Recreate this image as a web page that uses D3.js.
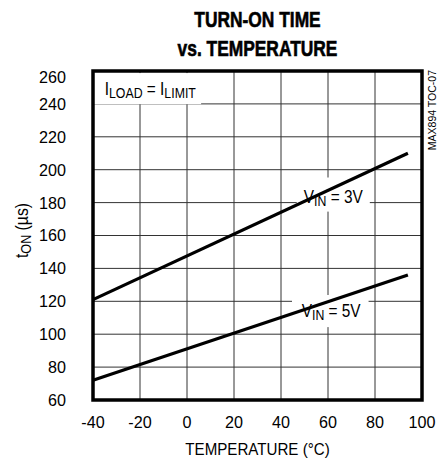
<!DOCTYPE html>
<html>
<head>
<meta charset="utf-8">
<script src="https://cdn.jsdelivr.net/npm/d3@7"></script>
<style>
  html, body { margin: 0; padding: 0; background: #fff; }
  svg { display: block; }
  text { font-family: "Liberation Sans", Arial, sans-serif; fill: #000; }
</style>
</head>
<body>
<svg id="chart" width="438" height="458"></svg>
<script>
// ---- data ----
const xTicks = [-40, -20, 0, 20, 40, 60, 80, 100];
const yTicks = [60, 80, 100, 120, 140, 160, 180, 200, 220, 240, 260];
const temp = [-40, 94];
const vin3V = [121, 210];
const vin5V = [72, 136];
const titleLines = ["TURN-ON TIME", "vs. TEMPERATURE"];
const xLabel = "TEMPERATURE (°C)";

// ---- layout ----
const svg = d3.select("#chart");
const L = 93, R = 422, T = 71, B = 400;
const x = d3.scaleLinear().domain([-40, 100]).range([L, R]);
const y = d3.scaleLinear().domain([60, 260]).range([B, T]);

// condensed text helper: group translated & horizontally squeezed
function ctext(parent, px, py, k, rot) {
  const g = parent.append("g")
    .attr("transform", `translate(${px},${py})${rot ? ` rotate(${rot})` : ""} scale(${k},1)`);
  return g;
}

// title
titleLines.forEach((s, i) => {
  ctext(svg, (L + R) / 2, 27 + i * 29, 0.79).append("text")
    .attr("text-anchor", "middle")
    .style("font-weight", "bold").style("font-size", "22px")
    .attr("stroke", "#000").attr("stroke-width", 0.6)
    .text(s);
});

// grid
const grid = svg.append("g").attr("stroke", "#333").attr("stroke-width", 1);
grid.selectAll(".gx").data(xTicks.slice(1, -1)).join("line")
  .attr("x1", d => x(d)).attr("x2", d => x(d)).attr("y1", T).attr("y2", B);
grid.selectAll(".gy").data(yTicks.slice(1, -1)).join("line")
  .attr("x1", L).attr("x2", R).attr("y1", d => y(d)).attr("y2", d => y(d));

// boxed labels with subscripts
const labels = svg.append("g");
function boxed(px, py, parts, pad) {
  const g = ctext(labels, px, py, 0.88);
  const rect = g.append("rect").attr("fill", "#fff");
  const fs = 17.5;
  const t = g.append("text").style("font-size", fs + "px");
  parts.forEach(p => {
    const s = t.append("tspan").text(p.t);
    if (p.sub) s.style("font-size", (fs * 0.8) + "px").attr("dy", 3);
    else if (p.after) s.attr("dy", -3);
  });
  const bb = t.node().getBBox();
  rect.attr("x", bb.x - pad[3]).attr("y", bb.y - pad[0])
      .attr("width", bb.width + pad[1] + pad[3]).attr("height", bb.height + pad[0] + pad[2]);
}

boxed(x(-35), y(245.4), [{t: "I"}, {t: "LOAD", sub: true}, {t: " = I", after: true}, {t: "LIMIT", sub: true}], [6, 6, 3, 14]);
boxed(x(49.7), y(179.5), [{t: "V"}, {t: "IN", sub: true}, {t: " = 3V", after: true}], [10, 8, 2, 8]);
boxed(x(48.8), y(110.5), [{t: "V"}, {t: "IN", sub: true}, {t: " = 5V", after: true}], [6, 9, 4, 11]);

// data lines
const line = d3.line().x(d => x(d[0])).y(d => y(d[1]));
[vin3V, vin5V].forEach(s => {
  svg.append("path").datum(temp.map((t, i) => [t, s[i]]))
    .attr("d", line).attr("fill", "none").attr("stroke", "#000").attr("stroke-width", 3.2);
});

// frame
svg.append("rect").attr("x", L).attr("y", T).attr("width", R - L).attr("height", B - T)
  .attr("fill", "none").attr("stroke", "#000").attr("stroke-width", 3.5);

// tick labels
xTicks.forEach(d => {
  ctext(svg, x(d), B + 28, 0.95).append("text").attr("text-anchor", "middle")
    .style("font-size", "17px").text(d);
});
yTicks.forEach(d => {
  ctext(svg, L - 27, y(d) + (d === 260 ? 6 : 0), 0.95).append("text")
    .attr("dy", "0.35em").attr("text-anchor", "end").style("font-size", "17px").text(d);
});

// axis titles
ctext(svg, (L + R) / 2, 455, 0.89).append("text").attr("text-anchor", "middle")
  .style("font-size", "17px").text(xLabel);

const yl = ctext(svg, 28, (T + B) / 2 - 5, 0.9, -90).append("text")
  .attr("text-anchor", "middle").style("font-size", "17.5px");
yl.append("tspan").text("t");
yl.append("tspan").text("ON").style("font-size", "14px").attr("dy", 3);
yl.append("tspan").text(" (µs)").attr("dy", -3);

svg.append("text").attr("transform", `translate(435.5,70) rotate(-90)`)
  .attr("text-anchor", "end")
  .style("font-size", "10.5px").text("MAX894 TOC-07");
</script>
</body>
</html>
